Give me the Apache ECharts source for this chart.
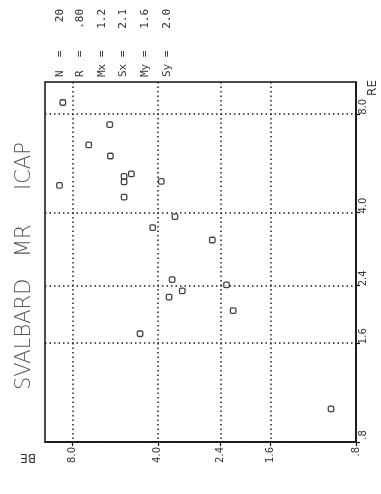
<!DOCTYPE html>
<html>
<head>
<meta charset="utf-8">
<script src="https://cdn.jsdelivr.net/npm/echarts@6/dist/echarts.min.js"></script>
<style>
html,body{margin:0;padding:0;background:#fff;}
#c{width:381px;height:494px;}
</style>
</head>
<body>
<div id="c"></div>
<script>
// Tick values shared by both log axes
const tickValues = [0.8, 1.6, 2.4, 4.0, 8.0];
// BE values (horizontal in picture, original vertical axis)
const beValues = [8.65, 5.91, 7.01, 5.88, 4.96, 5.26, 5.26, 8.89, 5.26, 3.89,
                  3.48, 4.17, 2.57, 3.56, 2.29, 3.28, 3.65, 2.17, 4.62, 0.98];
// RE values (vertical in picture, original horizontal axis)
const reValues = [8.66, 7.41, 6.43, 5.95, 5.25, 5.16, 4.96, 4.84, 4.46, 4.98,
                  3.89, 3.60, 3.30, 2.50, 2.41, 2.31, 2.21, 2.01, 1.71, 1.01];
// Statistics block
const statLabels = ['N  =', 'R  =', 'Mx =', 'Sx =', 'My =', 'Sy ='];
const statValues = ['20', '.80', '1.2', '2.1', '1.6', '2.0'];
const titleWords = ['SVALBARD', 'MR', 'ICAP'];

const points = beValues.map((b, i) => [b, reValues[i]]);
const fmt = v => (v < 1 ? '.8' : Number(v).toFixed(1));

const chart = echarts.init(document.getElementById('c'), null, {renderer: 'canvas'});

const statX = [60, 80, 102, 123, 145, 167];
const graphics = [];
statLabels.forEach((t, i) => {
  graphics.push({type: 'text', x: statX[i], y: 77, rotation: Math.PI / 2,
    style: {text: t, font: '11px "DejaVu Sans Mono"', fill: '#333', align: 'left', verticalAlign: 'middle', textAlign: 'left', textVerticalAlign: 'middle'}});
  graphics.push({type: 'text', x: statX[i], y: 9, rotation: Math.PI / 2,
    style: {text: statValues[i], font: '11px "DejaVu Sans Mono"', fill: '#333', align: 'right', verticalAlign: 'middle', textAlign: 'right', textVerticalAlign: 'middle'}});
});
const titleY = [390, 257, 190];
titleWords.forEach((w, i) => {
  graphics.push({type: 'text', x: 25, y: titleY[i], rotation: Math.PI / 2,
    style: {text: w, font: '300 21px "DejaVu Sans"', fill: '#555', align: 'left', verticalAlign: 'middle', textAlign: 'left', textVerticalAlign: 'middle'}});
});
graphics.push({type: 'text', x: 373, y: 88, rotation: Math.PI / 2,
  style: {text: 'RE', font: '12px "DejaVu Sans"', fill: '#333', align: 'center', verticalAlign: 'middle', textAlign: 'center', textVerticalAlign: 'middle'}});
graphics.push({type: 'text', x: 28, y: 457, rotation: Math.PI,
  style: {text: 'BE', font: '12px "DejaVu Sans"', fill: '#333', align: 'center', verticalAlign: 'middle', textAlign: 'center', textVerticalAlign: 'middle'}});

const dotted = {color: '#222', width: 1.5, type: [1.5, 3]};

chart.setOption({
  animation: false,
  backgroundColor: '#fff',
  grid: {left: 45, right: 25, top: 82, bottom: 52, show: true, borderColor: '#111', borderWidth: 1.5, backgroundColor: 'transparent'},
  xAxis: {
    type: 'log', logBase: 10, min: 0.8, max: 10, inverse: true, position: 'bottom',
    axisLine: {show: true, lineStyle: {color: '#111', width: 1.5}},
    axisTick: {show: true, customValues: tickValues, length: 4, inside: false, lineStyle: {color: '#111', width: 1.2}},
    minorTick: {show: false},
    axisLabel: {customValues: tickValues, rotate: 90, formatter: fmt, color: '#333', fontSize: 10, fontFamily: 'DejaVu Sans', margin: 5},
    splitLine: {show: true, lineStyle: dotted}
  },
  yAxis: {
    type: 'log', logBase: 10, min: 0.8, max: 10, position: 'right',
    axisLine: {show: true, lineStyle: {color: '#111', width: 1.5}},
    axisTick: {show: true, customValues: tickValues, length: 4, inside: false, lineStyle: {color: '#111', width: 1.2}},
    minorTick: {show: false},
    axisLabel: {customValues: tickValues, rotate: 90, formatter: fmt, color: '#333', fontSize: 10, fontFamily: 'DejaVu Sans', margin: 2, padding: [0, 0, 0, 14]},
    splitLine: {show: true, lineStyle: dotted}
  },
  series: [{
    type: 'scatter', data: points, symbol: 'roundRect', symbolSize: 5.5,
    itemStyle: {color: '#fff', borderColor: '#111', borderWidth: 1.3}
  }],
  graphic: graphics
});
</script>
</body>
</html>
